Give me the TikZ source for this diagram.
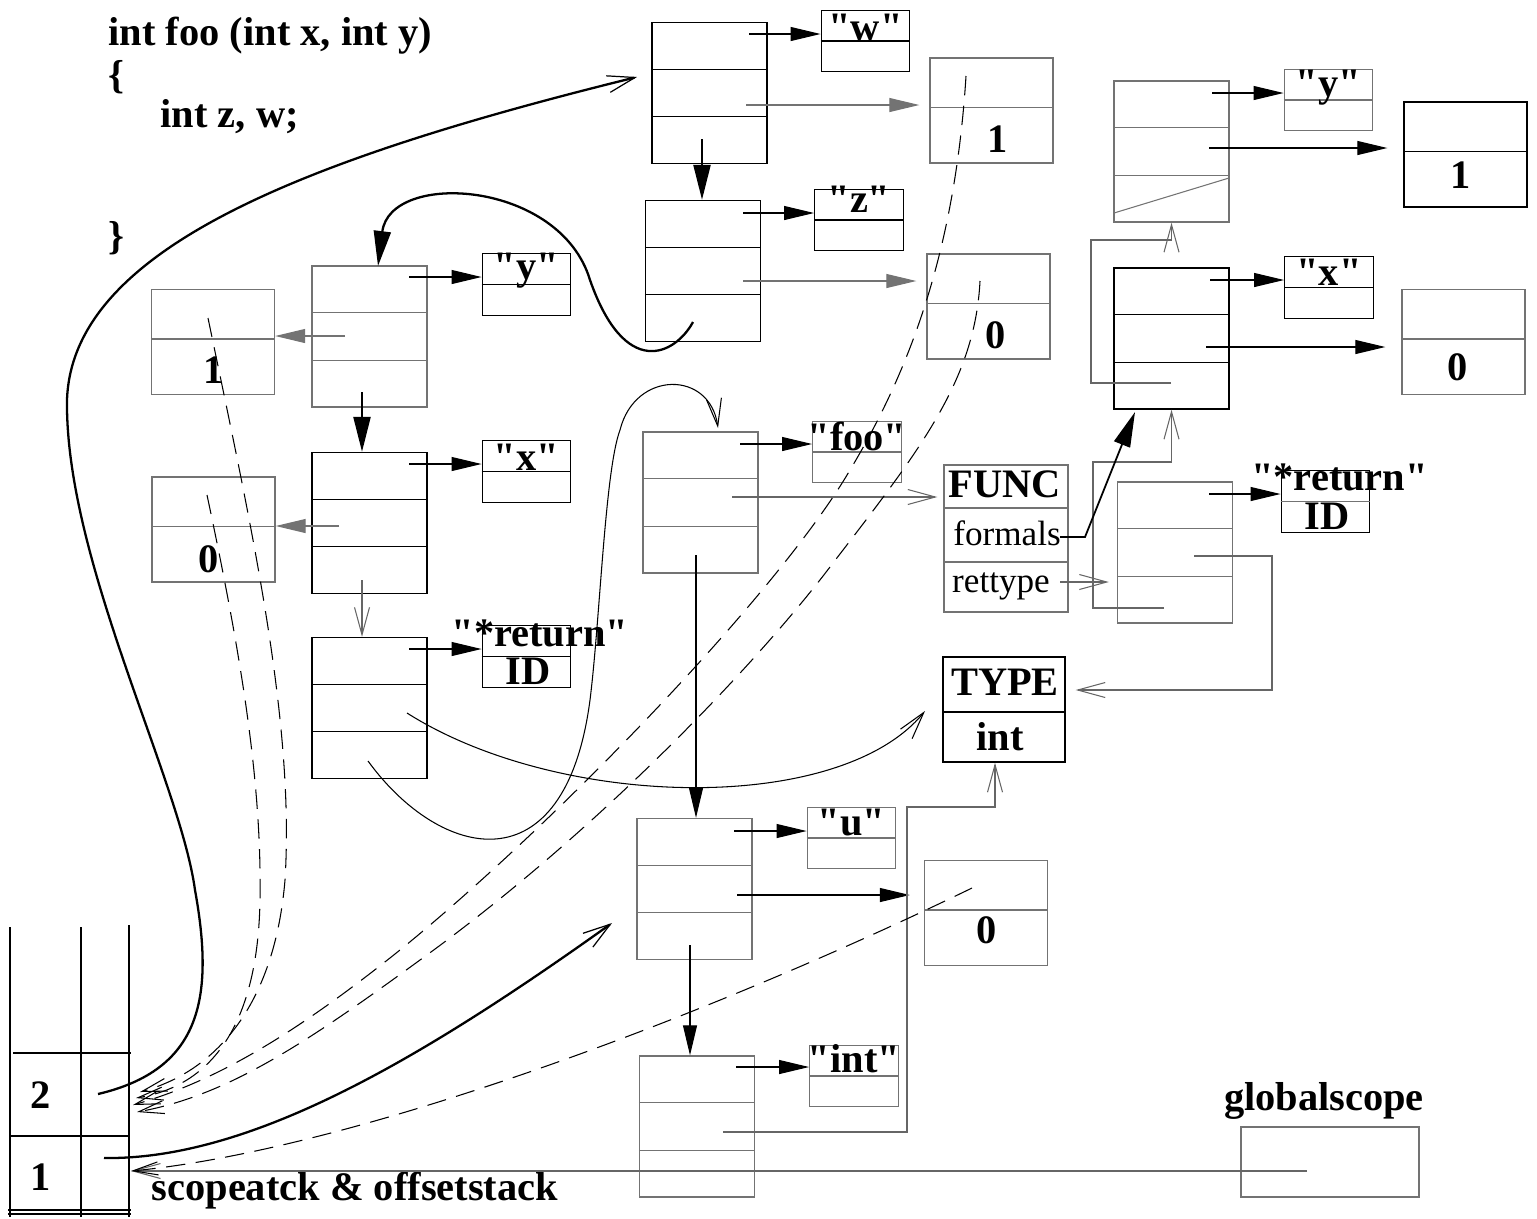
\documentclass[tikz,border=0pt]{standalone}
\usepackage{fontspec}
\setmainfont{Liberation Serif}
\usetikzlibrary{arrows.meta,calc}

\begin{document}
\begin{tikzpicture}[x=0.02cm,y=-0.02cm,line width=0.8pt]
   \useasboundingbox (0,0) rectangle (1537,1218);
   \tikzstyle{cell}=[draw, minimum width=2.3cm, minimum height=2.82cm, inner sep=0pt]
   \tikzstyle{namebox}=[draw, minimum width=1.77cm, minimum height=1.23cm, inner sep=0pt]
   \tikzstyle{valbox}=[draw, minimum width=2.46cm, minimum height=2.1cm, inner sep=0pt]
   \tikzstyle{lbl}=[inner sep=0pt, font=\fontsize{23}{23}\selectfont\bfseries]
   \tikzstyle{plain}=[inner sep=0pt, font=\fontsize{20}{20}\selectfont]
   \tikzstyle{ptr}=[line width=0.6pt, arrows={-{Triangle[length=0.6cm,width=0.28cm]}}]
   \tikzstyle{bigptr}=[line width=1.3pt, arrows={-{Triangle[length=0.7cm,width=0.34cm]}}]
   \tikzstyle{opn}=[line width=0.6pt, black!60, arrows={-{Straight Barb[length=0.55cm,width=0.3cm]}}]
   \tikzstyle{bigopn}=[line width=1.3pt, arrows={-{Straight Barb[length=0.55cm,width=0.34cm,line width=0.7pt]}}]
   \tikzstyle{link}=[line width=0.6pt, dash pattern=on 11pt off 6pt, arrows={-{Straight Barb[length=0.5cm,width=0.26cm]}}]

   % the source fragment
   \node[lbl, anchor=base west] (sig) at (108,45) {int foo (int x, int y)};
   \node[lbl, anchor=base west] (lbrace) at (108,88) {\{};
   \node[lbl, anchor=base west] (decl) at (160,127) {int z, w;};
   \node[lbl, anchor=base west] (rbrace) at (108,249) {\}};

   % symbol table entries
   \foreach \n/\x/\y/\col in {wcell/709.5/93/black, zcell/703/271/black, ycell/369.5/336.5/black!55, xcell/369.5/523/black, rcell/369.5/708/black, foocell/700.5/502.5/black!55, ucell/694.5/889/black!55, intcell/697/1126.5/black!55, y2cell/1171.5/151.5/black!55, x2cell/1171.5/338.5/black, retcell/1175/552.5/black!55} {
       \node[cell, draw=\col] (\n) at (\x,\y) {};
       \draw[color=\col] ($(\n.north west)!1/3!(\n.south west)$) -- ($(\n.north east)!1/3!(\n.south east)$);
       \draw[color=\col] ($(\n.north west)!2/3!(\n.south west)$) -- ($(\n.north east)!2/3!(\n.south east)$);
   }
   \foreach \n/\x/\y/\txt/\base/\col in {wname/865.5/41/w/40/black, zname/859/220/z/212/black, yname/526.5/284.5/y/279/black, xname/526.5/471.5/x/470/black, fooname/857/452/foo/450/black!55, uname/851.5/838/u/835/black!55, intname/854/1076/int/1072/black!55, y2name/1328.5/100/y/96/black!55, x2name/1329/287.5/x/285/black} {
       \node[namebox, draw=\col] (\n) at (\x,\y) {};
       \draw[color=\col] (\n.west) -- (\n.east);
       \node[lbl, anchor=base] (\n-t) at (\x,\base) {\textquotedbl\txt\textquotedbl};
   }
   \node[namebox] (retname) at (526.5,656.5) {};
   \draw (retname.west) -- (retname.east);
   \node[lbl, anchor=base] (retname-t) at (540,646) {\textquotedbl*return\textquotedbl};
   \node[lbl, anchor=base] (retname-id) at (528,684) {ID};
   \node[namebox] (ret2name) at (1325.5,501.5) {};
   \draw[black!55] (ret2name.west) -- (ret2name.east);
   \node[lbl, anchor=base] (ret2name-t) at (1339.5,490) {\textquotedbl*return\textquotedbl};
   \node[lbl, anchor=base] (ret2name-id) at (1327,529) {ID};

   % offsets
   \foreach \n/\x/\y/\val/\vx/\vb/\col in {one1/991.5/110.5/1/998/152/black!55, zero1/988.5/306.5/0/996/348/black!55, oneL/213/342/1/214/383/black!55, zeroL/213.5/529.5/0/209/572/black!55, zeroU/986/913/0/987/943/black!55, one2/1465.5/154.5/1/1461/188/black, zero2/1463.5/342/0/1458/380/black!55} {
       \node[valbox, draw=\col] (\n) at (\x,\y) {};
       \draw[color=\col] ($(\n.north west)!0.47!(\n.south west)$) -- ($(\n.north east)!0.47!(\n.south east)$);
       \node[lbl, anchor=base] (\n-v) at (\vx,\vb) {\val};
   }

   % type records
   \node[draw=black!55, minimum width=2.48cm, minimum height=2.94cm, inner sep=0pt] (funcbox) at (1006,538.5) {};
   \draw[black!55] (944,508) -- (1068,508) (944,562) -- (1068,562);
   \node[lbl, anchor=base] (functag) at (1005,497) {FUNC};
   \node[plain, anchor=base] (formals) at (1007,545) {formals};
   \node[plain, anchor=base] (rettype) at (1001,592) {rettype};
   \node[draw, minimum width=2.44cm, minimum height=2.1cm, inner sep=0pt] (typebox) at (1004,709.5) {};
   \draw (943,712) -- (1065,712);
   \node[lbl, anchor=base] (typetag) at (1005,695) {TYPE};
   \node[lbl, anchor=base] (typename) at (1000,750) {int};
   \node[draw=black!55, minimum width=3.56cm, minimum height=1.4cm, inner sep=0pt] (global) at (1330,1162) {};
   \node[lbl, anchor=base] (globaltag) at (1324,1110) {globalscope};

   % scope stack
   \draw (10,927) -- (10,1217) (81,927) -- (81,1217) (129,925) -- (129,1217);
   \draw (13,1053) -- (131,1053) (10,1136) -- (129,1136) (8,1210) -- (131,1210) (8,1214) -- (131,1214);
   \node[lbl, anchor=base] (lvl2) at (41,1108) {2};
   \node[lbl, anchor=base] (lvl1) at (41,1190) {1};
   \node[lbl, anchor=base west] (stacktag) at (151,1200) {scopeatck \& offsetstack};

   \foreach \n/\x/\y in {w1/749/34, w2/746/105, w3/702/139, z1/743/213, z2/743/281, z3/693/322, yin/378/266, y1/409/277, y2/345/336, y3/362/392, x1/409/464, x2/339/526, x3/362/580, r1/409/649, r2/407/713, r3/368/761, tin/925/711, fooin/718/428, f1/740/444, f2/732/497, f3/696/555, u1/734/831, u2/737/895, u3/690/945, i1/736/1067, i2/723/1132, tb/995/807, a1/1212/93, a2/1209/148, b1/1210/280, b2/1206/347, b3/1171/383, c1/1209/494, c2/1194/556, tr/1272/690, c3/1164/608, fm/1060/537, x2in/1135/412, rt/1060/582, gs/1307/1171, s2/98/1094, s1/104/1158, win/637/77, uin/612/923, s2in/131/1103, s1in/131/1171, ds1/966/76, ds2/980/281, ds3/208/318, ds4/207/495, ds5/972/888}
       \coordinate (\n) at (\x,\y);

   % pointers
   \draw[ptr] (w1) -- (w1 -| wname.west);
   \draw[ptr, black!55, shorten >=0.2cm] (w2) -- (w2 -| one1.west);
   \draw[bigptr] (w3) -- (w3 |- zcell.north);
   \draw[ptr] (z1) -- (z1 -| zname.west);
   \draw[ptr, black!55, shorten >=0.2cm] (z2) -- (z2 -| zero1.west);
   \draw[ptr] (y1) -- (y1 -| yname.west);
   \draw[ptr, black!55] (y2) -- (y2 -| oneL.east);
   \draw[bigptr] (y3) -- (y3 |- xcell.north);
   \draw[ptr] (x1) -- (x1 -| xname.west);
   \draw[ptr, black!55] (x2) -- (x2 -| zeroL.east);
   \draw[opn] (x3) -- (x3 |- rcell.north);
   \draw[ptr] (r1) -- (r1 -| retname.west);
   \draw[ptr] (f1) -- (f1 -| fooname.west);
   \draw[opn, shorten >=0.12cm] (f2) -- (f2 -| funcbox.west);
   \draw[ptr] (f3) -- (f3 |- ucell.north);
   \draw[ptr] (u1) -- (u1 -| uname.west);
   \draw[ptr, shorten >=0.28cm] (u2) -- (u2 -| zeroU.west);
   \draw[ptr] (u3) -- (u3 |- intcell.north);
   \draw[ptr] (i1) -- (i1 -| intname.west);
   \draw[opn] (i2) -- (907,1132) -- (907,807) -- (tb) -- (tb |- typebox.south);
   \draw[ptr] (a1) -- (a1 -| y2name.west);
   \draw[ptr, shorten >=0.32cm] (a2) -- (a2 -| one2.west);
   \draw[ptr] (b1) -- (b1 -| x2name.west);
   \draw[ptr, shorten >=0.32cm] (b2) -- (b2 -| zero2.west);
   \draw[opn] (b3) -- (1091,383) -- (1091,240) -| (y2cell.south);
   \draw[ptr] (c1) -- (c1 -| ret2name.west);
   \draw[opn, shorten >=0.2cm] (c2) -- (tr |- c2) -- (tr) -- (tr -| typebox.east);
   \draw[opn] (c3) -- (1093,608) -- (1093,462) -| (x2cell.south);
   \draw[bigptr, line width=1pt] (fm) -- (1085,537) -- (x2in);
   \draw[opn, shorten >=0.16cm] (rt) -- (rt -| retcell.west);
   \draw[opn] (gs) -- (s1in);
   \draw[black!55, line width=0.6pt] (1114,213) -- (1229,178);

   % curved links
   \draw[bigptr] (z3) .. controls (675,355) and (625,380) .. (590,280) .. controls (560,180) and (390,170) .. (yin);
   \draw[bigopn] (s2) .. controls (200,1070) and (215,1000) .. (195,890) .. controls (180,780) and (65,560) .. (67,400) .. controls (72,250) and (300,160) .. (win);
   \draw[bigopn] (s1) .. controls (250,1160) and (420,1060) .. (uin);
   \draw[opn, black] (r2) .. controls (560,810) and (840,815) .. (tin);
   \draw[opn, black] (r3) .. controls (440,860) and (565,890) .. (590,700) .. controls (600,620) and (605,470) .. (620,430) .. controls (635,370) and (710,370) .. (fooin);

   % offsets back to the stack
   \draw[link] (ds3) .. controls (250,520) and (295,720) .. (285,880) .. controls (275,1000) and (220,1070) .. ([shift={(9,-11)}]s2in);
   \draw[link] (ds4) .. controls (240,650) and (262,780) .. (260,900) .. controls (258,1020) and (215,1085) .. ([shift={(5,-5)}]s2in);
   \draw[link] (ds1) .. controls (955,250) and (910,370) .. (850,470) .. controls (780,590) and (560,820) .. (400,950) .. controls (300,1030) and (220,1080) .. ([shift={(2,2)}]s2in);
   \draw[link] (ds2) .. controls (975,380) and (920,450) .. (833,563) .. controls (760,660) and (600,830) .. (420,960) .. controls (310,1040) and (230,1095) .. ([shift={(6,9)}]s2in);
   \draw[link] (ds5) .. controls (700,1020) and (350,1150) .. (s1in);
\end{tikzpicture}
\end{document}
